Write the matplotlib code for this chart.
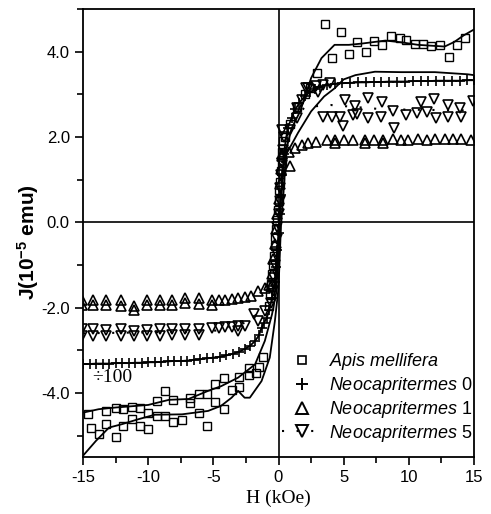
import matplotlib
matplotlib.use('Agg')
import matplotlib.pyplot as plt
from matplotlib.lines import Line2D
from matplotlib.ticker import MultipleLocator, FormatStrFormatter

# --- Apis mellifera (squares + two loop branches) ---
apis_h = [-14.6, -14.4, -13.8, -13.2, -13.2, -12.5, -12.5, -11.9, -11.9, -11.25, -11.25,
          -10.6, -10.6, -10.0, -10.0, -9.3, -9.3, -8.7, -8.7, -8.1, -8.1, -7.4, -6.8, -6.8,
          -6.1, -6.1, -5.5, -5.5, -4.9, -4.9, -4.2, -4.2, -3.6, -3.0, -3.0, -2.3, -2.3, -1.7,
          -1.5, -1.2,
          -0.70, -0.62, -0.55, -0.48, -0.42, -0.36, -0.30, -0.24, -0.18, -0.12, -0.06, 0.00,
          0.06, 0.12, 0.18, 0.24, 0.30, 0.36,
          0.5, 0.9, 1.4, 2.0, 2.4, 2.96, 3.57, 4.1, 4.8, 5.4, 6.0, 6.7, 7.3, 7.97, 8.6, 9.3,
          9.8, 10.5, 11.1, 11.7, 12.4, 13.1, 13.7, 14.3]
apis_j = [-4.50, -4.81, -4.97, -4.42, -4.72, -4.34, -5.03, -4.38, -4.78, -4.33, -4.60,
          -4.34, -4.77, -4.85, -4.47, -4.19, -4.53, -3.95, -4.53, -4.17, -4.68, -4.63, -4.12, -4.23,
          -4.02, -4.47, -4.03, -4.78, -3.80, -4.20, -3.66, -4.37, -3.93, -3.63, -3.87, -3.42, -3.58, -3.53,
          -3.40, -3.15,
          -1.95, -1.70, -1.45, -1.20, -1.00, -0.80, -0.55, -0.35, -0.15, 0.05, 0.30, 0.50,
          0.75, 0.95, 1.20, 1.40, 1.65, 1.90,
          2.00, 2.30, 2.70, 3.00, 3.15, 3.51, 4.65, 3.84, 4.47, 3.94, 4.23, 4.00, 4.26, 4.16, 4.37, 4.31,
          4.28, 4.19, 4.19, 4.14, 4.16, 3.88, 4.16, 4.31]

apis_down_h = [-15.0, -13.8, -12.5, -10.0, -8.4, -6.9, -5.4, -4.4, -3.1, -1.8, -1.05, -0.5, -0.15,
               0.1, 0.5, 1.0, 1.66, 2.5, 3.3, 4.3, 5.4, 6.4, 8.2, 9.4, 10.7, 12.75, 13.5, 14.2, 15.0]
apis_down_j = [-4.46, -4.38, -4.34, -4.28, -4.16, -4.14, -3.95, -3.84, -3.64, -3.33, -2.78, -2.16, -1.61,
               0.30, 1.60, 2.20, 2.60, 3.38, 3.85, 4.16, 4.16, 4.19, 4.26, 4.22, 4.16, 4.12, 4.23, 4.38, 4.52]

apis_up_h = [-15.0, -14.0, -13.0, -12.0, -10.7, -9.5, -7.4, -5.4, -4.4, -3.6, -3.1, -2.6, -2.2, -1.3,
             -0.67, -0.28, 0.0, 0.2, 0.6, 1.5, 2.5, 3.5, 4.3, 5.0, 5.9, 7.4, 9.4, 12.0, 14.5, 15.0]
apis_up_j = [-5.47, -5.12, -4.81, -4.73, -4.61, -4.51, -4.50, -4.42, -4.30, -4.11, -3.95, -4.11, -4.11, -3.72,
             -3.17, -2.32, -1.54, 0.00, 1.60, 2.10, 2.60, 2.95, 3.14, 3.35, 3.45, 3.53, 3.52, 3.52, 3.47, 3.45]

# --- Neocapritermes 0 (plus, divided by 100) ---
n0_h = [-15.0, -14.5, -14.0, -13.5, -13.0, -12.5, -12.0, -11.5, -11.0, -10.5, -10.0, -9.5, -9.0,
        -8.5, -8.0, -7.5, -7.0, -6.5, -6.0, -5.5, -5.0, -4.5, -4.0, -3.5, -3.0, -2.6, -2.2, -1.8,
        -1.5, -1.3, -1.1, -0.9, -0.7, -0.5, -0.3, -0.2, -0.1, 0.0, 0.1, 0.2, 0.3, 0.4, 0.7, 1.0,
        1.3, 1.6, 2.0, 2.4, 2.8, 3.2, 3.7, 4.3, 4.9, 5.5, 6.1, 6.7, 7.3, 7.9, 8.5, 9.1, 9.7, 10.3,
        10.9, 11.5, 12.1, 12.7, 13.3, 13.9, 14.5, 15.0]
n0_j = [-3.32, -3.32, -3.31, -3.31, -3.31, -3.30, -3.30, -3.30, -3.29, -3.29, -3.28, -3.28, -3.27,
        -3.26, -3.25, -3.25, -3.24, -3.22, -3.21, -3.19, -3.17, -3.15, -3.12, -3.08, -3.03, -2.97,
        -2.90, -2.78, -2.65, -2.47, -2.35, -2.24, -2.05, -1.77, -1.40, -1.05, -0.65, -0.25, 0.20,
        0.65, 1.10, 1.60, 2.20, 2.45, 2.65, 2.80, 2.95, 3.05, 3.12, 3.18, 3.22, 3.25, 3.26, 3.27,
        3.28, 3.28, 3.29, 3.29, 3.30, 3.30, 3.30, 3.31, 3.31, 3.31, 3.32, 3.32, 3.32, 3.32, 3.33, 3.33]

# --- Neocapritermes 1 (up triangles) ---
n1_h = [-15.07, -15.07, -14.2, -14.2, -13.2, -13.2, -12.1, -12.1, -11.1, -11.1, -10.1, -10.1,
        -9.1, -9.1, -8.2, -8.2, -7.2, -7.2, -6.1, -6.1, -5.1, -5.1, -4.6, -4.1, -3.6, -3.1,
        -2.6, -2.1, -1.55, -1.05, -0.7,
        -0.6, -0.5, -0.4, -0.3, -0.2, -0.1, 0.0, 0.1, 0.2, 0.3,
        0.25, 0.77, 0.9, 1.3, 1.8, 2.3, 2.9, 3.7, 4.3, 4.3, 5.0, 5.7, 6.6, 6.6,
        7.3, 8.0, 8.0, 8.8, 9.4, 9.9, 10.7, 11.4, 12.0, 12.8, 13.4, 14.0, 14.8]
n1_j = [-1.81, -1.94, -1.81, -1.94, -1.82, -1.94, -1.82, -1.95, -1.97, -2.06, -1.83, -1.94,
        -1.81, -1.93, -1.82, -1.94, -1.77, -1.90, -1.77, -1.91, -1.82, -1.93, -1.82, -1.81, -1.80, -1.78,
        -1.76, -1.72, -1.62, -1.55, -1.48,
        -1.50, -1.20, -0.85, -0.50, -0.15, 0.20, 0.55, 0.90, 1.25, 1.55,
        1.59, 1.66, 1.31, 1.74, 1.82, 1.86, 1.88, 1.93, 1.93, 1.86, 1.93, 1.93,
        1.93, 1.86, 1.94, 1.93, 1.86, 1.95, 1.94, 1.94, 1.95, 1.94, 1.95, 1.96, 1.95, 1.95, 1.93]

# --- Neocapritermes 5 (down triangles, dotted guide) ---
n5_h = [-15.07, -15.07, -14.2, -14.2, -13.2, -13.2, -12.1, -12.1, -11.1, -11.1, -10.1, -10.1,
        -9.1, -9.1, -8.2, -8.2, -7.2, -7.2, -6.1, -6.1, -5.1, -4.6, -4.1, -3.6, -3.1, -3.1,
        -2.6, -1.9, -1.55, -1.07,
        -0.55, -0.45, -0.38, -0.30, -0.22, -0.15, -0.08, 0.00, 0.08, 0.15, 0.22, 0.30, 0.38, 0.45,
        0.25, 0.9, 1.4, 1.77, 2.1, 2.3, 2.9, 3.0, 3.4, 3.95, 5.1, 5.9,
        6.9, 7.96, 10.9, 11.9, 13.0, 13.9, 14.9,
        1.4, 3.4, 4.1, 4.7, 5.7, 6.0, 6.9, 7.9, 8.8, 9.8, 10.6, 11.4, 12.1, 13.0, 14.0,
        4.97, 8.9]
n5_j = [-2.51, -2.67, -2.51, -2.67, -2.53, -2.67, -2.51, -2.66, -2.55, -2.67, -2.52, -2.66,
        -2.50, -2.66, -2.50, -2.65, -2.50, -2.64, -2.49, -2.63, -2.48, -2.47, -2.46, -2.46, -2.44, -2.55,
        -2.43, -2.16, -2.32, -2.08,
        -1.90, -1.60, -1.30, -1.00, -0.70, -0.40, -0.10, 0.20, 0.50, 0.80, 1.10, 1.40, 1.70, 2.00,
        2.17, 2.17, 2.67, 2.87, 3.14, 3.16, 3.20, 3.06, 3.22, 3.26, 2.87, 2.73,
        2.92, 2.82, 2.82, 2.90, 2.76, 2.67, 2.85,
        2.44, 2.46, 2.46, 2.48, 2.52, 2.53, 2.44, 2.46, 2.60, 2.52, 2.56, 2.58, 2.45, 2.46, 2.46,
        2.25, 2.20]

n5_guide_h = [-15.0, -10.0, -5.0, -2.5, -1.0, -0.3, 0.3, 1.0, 2.0, 4.0, 8.0, 15.0]
n5_guide_j = [-2.60, -2.58, -2.55, -2.35, -2.00, -1.50, 1.50, 2.30, 2.70, 2.75, 2.65, 2.62]

plt.rcParams['font.family'] = 'Liberation Sans'
plt.rcParams['axes.unicode_minus'] = False
plt.rcParams['mathtext.fontset'] = 'custom'
plt.rcParams['mathtext.rm'] = 'Liberation Sans'
plt.rcParams['mathtext.it'] = 'Liberation Sans:italic'
plt.rcParams['mathtext.bf'] = 'Liberation Sans:bold'

fig = plt.figure(figsize=(4.91, 5.14), dpi=100)
ax = fig.add_axes([83 / 491, 1 - 457 / 514, 391 / 491, 448 / 514])

ax.axhline(0, color='black', lw=1.2, zorder=1)
ax.axvline(0, color='black', lw=1.2, zorder=1)

ax.plot(apis_down_h, apis_down_j, color='black', lw=1.3)
ax.plot(apis_up_h, apis_up_j, color='black', lw=1.3)
ax.plot(n0_h, n0_j, color='black', lw=1.3)
ax.plot(n5_guide_h, n5_guide_j, color='black', lw=1.5, linestyle=(0, (1, 6)))

ms_kw = dict(linestyle='none', color='black', mfc='none')
ax.plot(apis_h, apis_j, marker='s', ms=5.5, mew=1.0, **ms_kw)
ax.plot(n0_h, n0_j, marker='+', ms=7, mew=1.2, **ms_kw)
ax.plot(n1_h, n1_j, marker='^', ms=6.5, mew=1.2, **ms_kw)
ax.plot(n5_h, n5_j, marker='v', ms=6.5, mew=1.2, **ms_kw)

ax.text(-14.3, -3.63, '÷100', family='Liberation Serif', fontsize=14, va='center', ha='left')

ax.set_xlim(-15, 15)
ax.set_ylim(-5.5, 5.0)
ax.xaxis.set_major_locator(MultipleLocator(5))
ax.xaxis.set_minor_locator(MultipleLocator(2.5))
ax.yaxis.set_major_locator(MultipleLocator(2))
ax.yaxis.set_minor_locator(MultipleLocator(1))
ax.yaxis.set_major_formatter(FormatStrFormatter('%.1f'))
ax.tick_params(which='major', direction='out', length=6, width=1.2, labelsize=12)
ax.tick_params(which='minor', direction='out', length=4, width=1.2)
for s in ax.spines.values():
    s.set_linewidth(1.3)

ax.set_xlabel('H (kOe)', family='Liberation Serif', fontsize=14, labelpad=3)
ax.set_ylabel(r'J(10$^{\mathbf{-5}}$ emu)', fontsize=15, fontweight='bold')
ax.yaxis.set_label_coords(-0.107, 0.48)

handles = [
    Line2D([], [], marker='s', ms=6, mew=1.2, **ms_kw),
    Line2D([], [], marker='+', ms=9, mew=1.4, **ms_kw),
    Line2D([], [], marker='^', ms=8, mew=1.4, **ms_kw),
    Line2D([], [], marker='v', ms=8, mew=1.4, color='black', mfc='none',
           lw=1.5, linestyle=(0, (1, 6))),
]
labels = [r'$\mathit{Apis\ mellifera}$', r'$\mathit{Neocapritermes}$ 0',
          r'$\mathit{Neocapritermes}$ 1', r'$\mathit{Neocapritermes}$ 5']
ax.legend(handles, labels, loc='lower right', bbox_to_anchor=(0.995, 0.03),
          frameon=False, fontsize=13, handlelength=2.3, handletextpad=0.3,
          labelspacing=0.15, borderpad=0, borderaxespad=0)

fig.savefig('out.png', dpi=100)
